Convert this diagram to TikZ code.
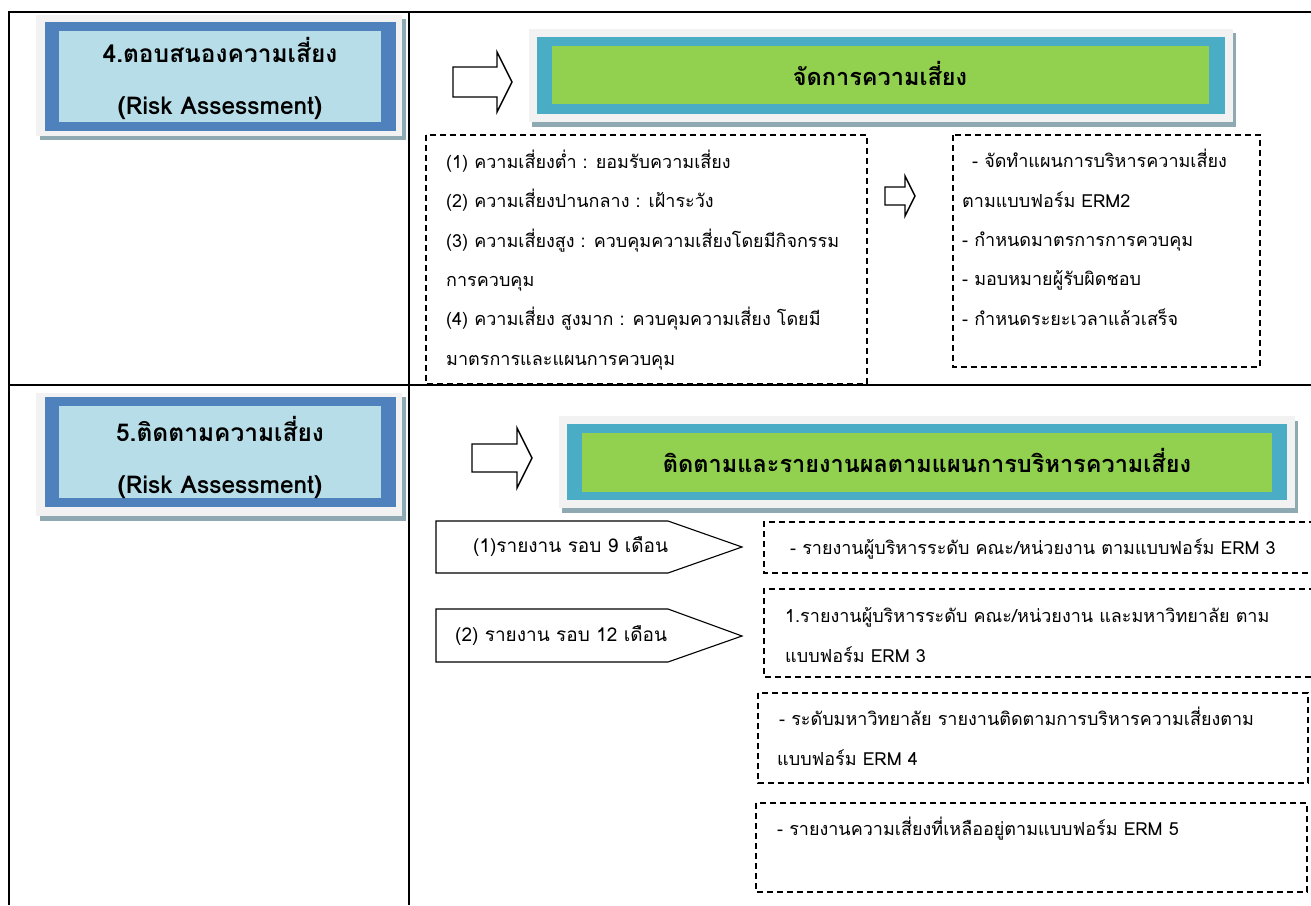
\documentclass[tikz,border=0pt]{standalone}
\usepackage{fontspec}
\newfontfamily\thaifont[Script=Thai]{Loma}
\usetikzlibrary{positioning}
\definecolor{framegray}{HTML}{F2F2F2}
\definecolor{shadowgray}{HTML}{8EA9B1}
\definecolor{stepblue}{HTML}{4F81BD}
\definecolor{steplight}{HTML}{B7DEE8}
\definecolor{headblue}{HTML}{4BACC6}
\definecolor{headgreen}{HTML}{92D050}
\tikzset{
	gridline/.style={line width=2pt, color=black},
	shadowfill/.style={fill=shadowgray},
	framefill/.style={fill=framegray},
	blockarrow/.style={draw=black, fill=white, line width=1.4pt, line join=miter},
	pentbox/.style={draw=black, fill=white, line width=1.1pt},
	dashbox/.style={draw=black, line width=1.3pt, dash pattern=on 6pt off 4pt},
	titletext/.style={font=\thaifont\bfseries\fontsize{24.5}{52}\selectfont, align=center},
	headtext/.style={font=\thaifont\bfseries\fontsize{23.5}{28}\selectfont},
	bodytext/.style={font=\thaifont\fontsize{18}{39.3}\selectfont, align=left, anchor=base west, inner sep=0},
	pentlabel/.style={font=\thaifont\fontsize{19}{22}\selectfont, anchor=west, inner sep=0}
}
\begin{document}
\begin{tikzpicture}[x=1pt,y=-1pt]
\useasboundingbox (0,0) rectangle (1311,905);

%%%% table lines
\draw[gridline] (1311,12) -- (9,12) -- (9,905);
\draw[gridline] (409,12) -- (409,905);
\draw[gridline] (9,385) -- (1311,385);

%%%% step 4
\fill[shadowfill] (40,19) rectangle (406,140);
\fill[framefill] (36,15) rectangle (402,136);
\fill[stepblue] (45,22) rectangle (396,131);
\fill[steplight] (59,31) rectangle (381,122);
\node[titletext] (s4) at (220,78) {4.ตอบสนองความเสี่ยง\\(Risk Assessment)};

%%%% header: manage risk
\draw[blockarrow] (453,67) -- (497,67) -- (497,52) -- (512,82) -- (497,112) -- (497,97) -- (453,97) -- cycle;
\fill[shadowfill] (532,33) rectangle (1236,127);
\fill[framefill] (529,29) rectangle (1233,122);
\fill[headblue] (537,37) rectangle (1225,114);
\fill[headgreen] (552,46) rectangle (1209,104);
\node[headtext] (h4) at (880,73) {จัดการความเสี่ยง};

%%%% risk levels
\draw[dashbox] (426,135) rectangle (867,384);
\node[bodytext] (lv) at (446,365) {(1) ความเสี่ยงต่ำ : ยอมรับความเสี่ยง\\
(2) ความเสี่ยงปานกลาง : เฝ้าระวัง\\
(3) ความเสี่ยงสูง : ควบคุมความเสี่ยงโดยมีกิจกรรม\\
การควบคุม\\
(4) ความเสี่ยง สูงมาก : ควบคุมความเสี่ยง โดยมี\\
มาตรการและแผนการควบคุม};

\draw[blockarrow] (885,187) -- (905,187) -- (905,176) -- (915,196) -- (905,216) -- (905,205) -- (885,205) -- cycle;

%%%% actions
\draw[dashbox] (953,135) rectangle (1260,367);
\node[bodytext] (act) at (962,325) {\hspace*{10pt}- จัดทำแผนการบริหารความเสี่ยง\\
ตามแบบฟอร์ม ERM2\\
- กำหนดมาตรการการควบคุม\\
- มอบหมายผู้รับผิดชอบ\\
- กำหนดระยะเวลาแล้วเสร็จ};

%%%% step 5
\fill[shadowfill] (40,397) rectangle (406,521);
\fill[framefill] (36,393) rectangle (402,516);
\fill[stepblue] (45,397) rectangle (396,507);
\fill[steplight] (59,406) rectangle (381,498);
\node[titletext] (s5) at (220,457) {5.ติดตามความเสี่ยง\\(Risk Assessment)};

%%%% header: follow up
\draw[blockarrow] (472,444) -- (517,444) -- (517,428) -- (532,458) -- (517,488) -- (517,472) -- (472,472) -- cycle;
\fill[shadowfill] (562,421) rectangle (1298,513);
\fill[framefill] (559,416) rectangle (1295,508);
\fill[headblue] (567,424) rectangle (1287,500);
\fill[headgreen] (582,433) rectangle (1272,492);
\node[headtext] (h5) at (927,460) {ติดตามและรายงานผลตามแผนการบริหารความเสี่ยง};

%%%% report rounds
\draw[pentbox] (436,521) -- (668,521) -- (742,547) -- (668,573) -- (436,573) -- cycle;
\node[pentlabel] (r9) at (473,547) {(1)รายงาน รอบ 9 เดือน};
\draw[pentbox] (436,609) -- (668,609) -- (742,636) -- (668,662) -- (436,662) -- cycle;
\node[pentlabel] (r12) at (455,636) {(2) รายงาน รอบ 12 เดือน};

%%%% report forms
\draw[dashbox] (1315,522) -- (764,522) -- (764,573) -- (1315,573);
\node[bodytext] (f3a) at (790,554) {- รายงานผู้บริหารระดับ คณะ/หน่วยงาน ตามแบบฟอร์ม ERM 3};
\draw[dashbox] (1315,589) -- (764,589) -- (764,677) -- (1315,677);
\node[bodytext] (f3b) at (785,662) {1.รายงานผู้บริหารระดับ คณะ/หน่วยงาน และมหาวิทยาลัย ตาม\\
แบบฟอร์ม ERM 3};
\draw[dashbox] (758,693) rectangle (1308,783);
\node[bodytext] (f4) at (777,765) {\hspace*{2pt}- ระดับมหาวิทยาลัย รายงานติดตามการบริหารความเสี่ยงตาม\\
แบบฟอร์ม ERM 4};
\draw[dashbox] (756,803) rectangle (1307,892);
\node[bodytext] (f5) at (777,835) {- รายงานความเสี่ยงที่เหลืออยู่ตามแบบฟอร์ม ERM 5};
\end{tikzpicture}
\end{document}
